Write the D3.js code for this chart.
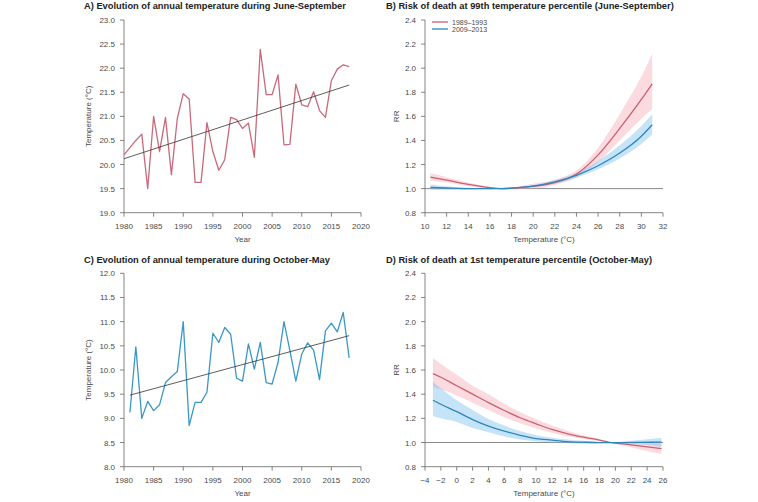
<!DOCTYPE html>
<html><head><meta charset="utf-8">
<script src="https://cdn.jsdelivr.net/npm/d3@7"></script>
<style>
body{margin:0;background:#fff;}
svg{display:block;font-family:"Liberation Sans",Arial,sans-serif;}
</style></head>
<body>
<svg id="c" width="758" height="502"></svg>
<script>
// ---------- data ----------
const yearsA = d3.range(1980, 2019);
const tempJunSep = [20.2,20.35,20.5,20.63,19.5,21.0,20.27,20.98,19.79,20.96,21.47,21.36,19.63,19.63,20.87,20.27,19.88,20.1,20.98,20.93,20.75,20.86,20.15,22.39,21.45,21.45,21.86,20.41,20.42,21.67,21.24,21.2,21.51,21.12,20.98,21.74,21.98,22.07,22.03];
const trendJunSep = [[1980,20.12],[2018,21.65]];

const yearsC = d3.range(1981, 2019);
const tempOctMay = [9.12,10.48,9.0,9.35,9.16,9.28,9.74,9.86,9.97,11.0,8.85,9.33,9.33,9.54,10.76,10.57,10.88,10.74,9.83,9.77,10.54,10.02,10.57,9.74,9.71,10.16,11.0,10.4,9.77,10.33,10.56,10.41,9.8,10.81,10.97,10.79,11.19,10.25];
const trendOctMay = [[1981,9.48],[2018,10.71]];

// Panel B: RR curves (temperature, RR, lower, upper)
const tempB = [10.5,12,14,16,17,18,20,22,24,26,28,30,31];
const rrB_8993 = [1.096,1.07,1.035,1.008,1.0,1.003,1.02,1.05,1.12,1.28,1.5,1.74,1.87];
const loB_8993 = [1.065,1.05,1.02,1.0,1.0,0.995,1.0,1.03,1.09,1.22,1.40,1.58,1.66];
const hiB_8993 = [1.13,1.095,1.05,1.015,1.0,1.01,1.04,1.075,1.15,1.34,1.62,1.93,2.12];
const rrB_0913 = [1.01,1.005,1.0,1.0,1.0,1.004,1.02,1.055,1.11,1.19,1.295,1.435,1.53];
const loB_0913 = [0.99,0.99,0.993,0.998,1.0,1.0,1.01,1.04,1.09,1.16,1.25,1.37,1.45];
const hiB_0913 = [1.035,1.02,1.007,1.002,1.0,1.008,1.03,1.07,1.13,1.23,1.36,1.52,1.62];

// Panel D
const tempD = [-3,-2,0,2,4,6,8,10,12,14,16,18,19.5,21,23,25.8];
const rrD_8993 = [1.57,1.54,1.47,1.40,1.33,1.265,1.205,1.155,1.108,1.072,1.044,1.02,1.0,0.988,0.972,0.95];
const loD_8993 = [1.46,1.44,1.39,1.33,1.27,1.21,1.16,1.115,1.08,1.05,1.03,1.01,1.0,0.975,0.945,0.905];
const hiD_8993 = [1.70,1.65,1.56,1.47,1.40,1.32,1.25,1.195,1.14,1.095,1.06,1.03,1.0,1.0,0.995,0.99];
const rrD_0913 = [1.35,1.317,1.255,1.19,1.136,1.094,1.06,1.033,1.02,1.008,1.003,1.0,1.0,1.0,1.001,1.003];
const loD_0913 = [1.22,1.2,1.17,1.12,1.085,1.05,1.025,1.01,1.0,0.993,0.99,0.995,1.0,0.993,0.985,0.965];
const hiD_0913 = [1.50,1.45,1.35,1.27,1.195,1.14,1.095,1.06,1.04,1.025,1.015,1.005,1.0,1.008,1.02,1.04];

const yearTicks = d3.range(1980, 2021, 5);
const tickA = [19.0,19.5,20.0,20.5,21.0,21.5,22.0,22.5,23.0];
const tickC = [8.0,8.5,9.0,9.5,10.0,10.5,11.0,11.5,12.0];
const tickRR = [0.8,1.0,1.2,1.4,1.6,1.8,2.0,2.2,2.4];
const tickTB = d3.range(10, 33, 2);
const tickTD = d3.range(-4, 27, 2);
const legendLabels = ["1989\u20131993","2009\u20132013"];
const titles = ["A) Evolution of annual temperature during June-September",
  "B) Risk of death at 99th temperature percentile (June-September)",
  "C) Evolution of annual temperature during October-May",
  "D) Risk of death at 1st temperature percentile (October-May)"];

// ---------- style ----------
const RED = "#c9606f", RED_BAND = "rgba(246,170,182,0.42)";
const BLUE = "#2f86bd", BLUE_BAND = "rgba(120,190,235,0.42)";
const LINE_A = "#c96a7b", LINE_C = "#3b97c8";
const AX = "#666", TXT = "#4a4a4a";

const svg = d3.select("#c");

function axes(g, x, y, xt, yt, xfmt, yfmt, xlab, ylab, ylabX) {
  const [x0, x1] = x.range(), [y0, y1] = y.range();
  g.append("line").attr("x1", x(xt[0])).attr("x2", x(xt[xt.length-1]))
   .attr("y1", y0).attr("y2", y0).attr("stroke", AX).attr("stroke-width", 0.8);
  xt.forEach(t => {
    g.append("line").attr("x1", x(t)).attr("x2", x(t)).attr("y1", y0).attr("y2", y0+4)
      .attr("stroke", AX).attr("stroke-width", 0.8);
    g.append("text").attr("x", x(t)).attr("y", y0+16).attr("text-anchor","middle")
      .attr("font-size", 8).attr("fill", TXT).text(xfmt(t));
  });
  g.append("text").attr("x", (x(xt[0])+x(xt[xt.length-1]))/2).attr("y", y0+29)
    .attr("text-anchor","middle").attr("font-size", 8).attr("fill", TXT).text(xlab);
  g.append("line").attr("x1", x0).attr("x2", x0).attr("y1", y(yt[0])).attr("y2", y(yt[yt.length-1]))
   .attr("stroke", AX).attr("stroke-width", 0.8);
  yt.forEach(t => {
    g.append("line").attr("x1", x0-4).attr("x2", x0).attr("y1", y(t)).attr("y2", y(t))
      .attr("stroke", AX).attr("stroke-width", 0.8);
    g.append("text").attr("x", x0-9).attr("y", y(t)+3).attr("text-anchor","end")
      .attr("font-size", 8).attr("fill", TXT).text(yfmt(t));
  });
  g.append("text").attr("transform", `translate(${ylabX},${(y0+y1)/2}) rotate(-90)`)
    .attr("text-anchor","middle").attr("font-size", 8).attr("fill", TXT).text(ylab);
}

function title(txt, x, y) {
  svg.append("text").attr("x", x).attr("y", y).attr("font-size", 9.3).attr("font-weight","bold")
    .attr("fill", "#222").text(txt);
}

const f1 = d3.format(".1f");
const fInt = d => d < 0 ? "\u2212" + Math.abs(d) : String(d);

// ---------- Panel A ----------
{
  const g = svg.append("g");
  const x = d3.scaleLinear().domain([1980, 2020]).range([124, 361]);
  const y = d3.scaleLinear().domain([19, 23]).range([212.7, 20]);
  axes(g, x, y, yearTicks, tickA, String, f1, "Year", "Temperature (\u00B0C)", 91);
  g.append("path").datum(yearsA.map((yr,i)=>[yr,tempJunSep[i]]))
    .attr("d", d3.line().x(d=>x(d[0])).y(d=>y(d[1])))
    .attr("fill","none").attr("stroke", LINE_A).attr("stroke-width", 1.3).attr("stroke-linejoin","round");
  g.append("path").datum(trendJunSep).attr("d", d3.line().x(d=>x(d[0])).y(d=>y(d[1])))
    .attr("stroke", "#333").attr("stroke-width", 0.8);
  title(titles[0], 84, 9);
}

// ---------- Panel C ----------
{
  const g = svg.append("g");
  const x = d3.scaleLinear().domain([1980, 2020]).range([124, 361]);
  const y = d3.scaleLinear().domain([8, 12]).range([466.7, 273.3]);
  axes(g, x, y, yearTicks, tickC, String, f1, "Year", "Temperature (\u00B0C)", 91);
  g.append("path").datum(yearsC.map((yr,i)=>[yr,tempOctMay[i]]))
    .attr("d", d3.line().x(d=>x(d[0])).y(d=>y(d[1])))
    .attr("fill","none").attr("stroke", LINE_C).attr("stroke-width", 1.3).attr("stroke-linejoin","round");
  g.append("path").datum(trendOctMay).attr("d", d3.line().x(d=>x(d[0])).y(d=>y(d[1])))
    .attr("stroke", "#333").attr("stroke-width", 0.8);
  title(titles[2], 84, 263);
}

function rrPanel(temps, series, xdom, xt, yr, tt, ty) {
  const g = svg.append("g");
  const x = d3.scaleLinear().domain(xdom).range([425, 663]);
  const y = d3.scaleLinear().domain([0.8, 2.4]).range(yr);
  axes(g, x, y, xt, tickRR, fInt, f1, "Temperature (\u00B0C)", "RR", 399);
  g.append("line").attr("x1", x(xdom[0])).attr("x2", x(xdom[1])).attr("y1", y(1)).attr("y2", y(1))
    .attr("stroke", "#8a8a8a").attr("stroke-width", 1);
  const area = d3.area().curve(d3.curveMonotoneX).x((d)=>x(d[0])).y0(d=>y(d[1])).y1(d=>y(d[2]));
  const line = d3.line().curve(d3.curveMonotoneX).x(d=>x(d[0])).y(d=>y(d[1]));
  series.forEach(s => {
    g.append("path").datum(temps.map((t,i)=>[t,s.lo[i],s.hi[i]])).attr("d", area)
      .attr("fill", s.band).attr("stroke","none");
  });
  series.forEach(s => {
    g.append("path").datum(temps.map((t,i)=>[t,s.rr[i]])).attr("d", line)
      .attr("fill","none").attr("stroke", s.col).attr("stroke-width", 1.3);
  });
  title(tt, 386, ty);
  return g;
}

const gB = rrPanel(tempB, [
  {rr: rrB_8993, lo: loB_8993, hi: hiB_8993, col: RED, band: RED_BAND},
  {rr: rrB_0913, lo: loB_0913, hi: hiB_0913, col: BLUE, band: BLUE_BAND}
], [10, 32], tickTB, [212.7, 20], titles[1], 9);

rrPanel(tempD, [
  {rr: rrD_8993, lo: loD_8993, hi: hiD_8993, col: RED, band: RED_BAND},
  {rr: rrD_0913, lo: loD_0913, hi: hiD_0913, col: BLUE, band: BLUE_BAND}
], [-4, 26], tickTD, [466.7, 273.3], titles[3], 263);

// legend in B
[RED, BLUE].forEach((c, i) => {
  const yy = 22 + i*7;
  gB.append("line").attr("x1", 432).attr("x2", 448).attr("y1", yy).attr("y2", yy)
    .attr("stroke", c).attr("stroke-width", 1.3);
  gB.append("text").attr("x", 452).attr("y", yy+2.5).attr("font-size", 7).attr("fill", TXT)
    .text(legendLabels[i]);
});
</script>
</body></html>
